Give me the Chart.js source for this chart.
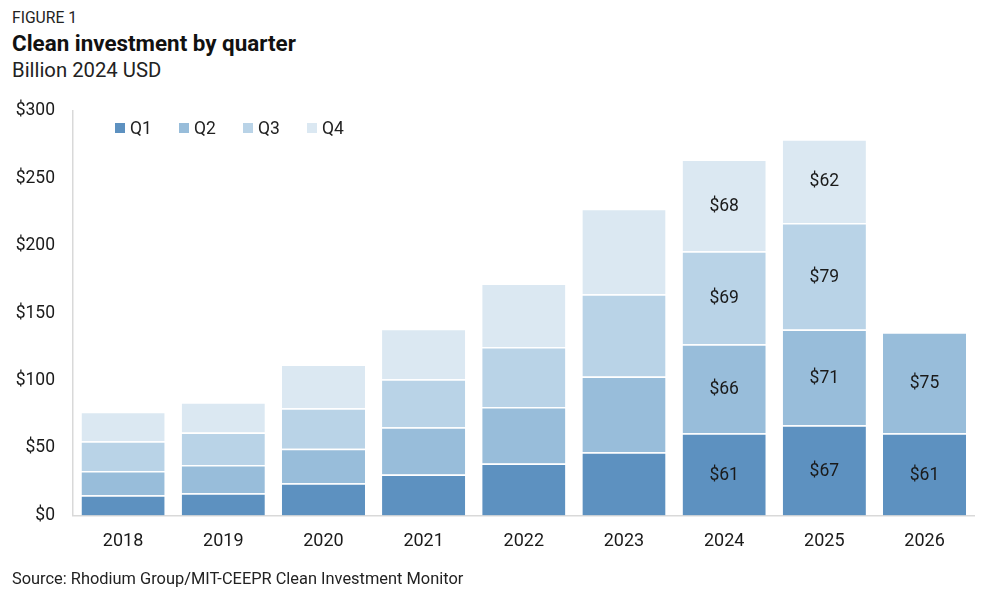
<!DOCTYPE html>
<html>
<head>
<meta charset="utf-8">
<script src="https://cdn.jsdelivr.net/npm/chart.js@4"></script>
<style>
  html, body { margin:0; padding:0; background:#fff; width:1000px; height:603px; overflow:hidden; font-family: Roboto, "Noto Sans", sans-serif; color:#1a1a1a; }
  .t { position:absolute; left:12px; white-space:nowrap; }
  #wrap { position:absolute; left:0; top:0; width:1000px; height:603px; }
  #legend { position:absolute; top:118px; left:115px; display:flex; font-size:17.5px; color:#222; }
  .li { display:flex; align-items:center; width:64px; }
  .sw { width:10px; height:10px; margin-right:5px; }
</style>
</head>
<body>
<div class="t" style="top:8px;font-size:15.7px;color:#222;">FIGURE 1</div>
<div class="t" style="top:30px;font-size:22.4px;font-weight:700;color:#111;">Clean investment by quarter</div>
<div class="t" style="top:58px;font-size:20.3px;color:#222;">Billion 2024 USD</div>
<div id="wrap"><canvas id="c" width="1000" height="603"></canvas></div>
<div id="legend"></div>
<div class="t" style="top:569px;font-size:16.4px;color:#222;">Source: Rhodium Group/MIT-CEEPR Clean Investment Monitor</div>
<script>
const categories = ["2018","2019","2020","2021","2022","2023","2024","2025","2026"];
const seriesNames = ["Q1","Q2","Q3","Q4"];
const q1 = [15, 16.5, 24, 30.5, 38.5, 47, 61, 67, 61];
const q2 = [18, 21, 25.5, 35, 42, 56, 66, 71, 75];
const q3 = [22, 24, 30, 35.5, 44.5, 61, 69, 79, null];
const q4 = [22, 22.5, 32.5, 37.5, 47, 63.5, 68, 62, null];
const labeledCategories = ["2024","2025","2026"];
const yTicks = [0, 50, 100, 150, 200, 250, 300];
const colors = ["#5d91c0", "#98bdda", "#b9d3e7", "#dbe8f2"];

const seriesValues = [q1, q2, q3, q4];

const legend = document.getElementById('legend');
seriesNames.forEach((n, i) => {
  const d = document.createElement('div'); d.className = 'li';
  d.innerHTML = '<span class="sw" style="background:' + colors[i] + '"></span>' + n;
  legend.appendChild(d);
});

const labelPlugin = {
  id: 'segLabels',
  afterDatasetsDraw(chart) {
    const ctx = chart.ctx;
    ctx.save();
    ctx.font = '17.5px Roboto, "Noto Sans", sans-serif';
    ctx.fillStyle = '#1a1a1a';
    ctx.textAlign = 'center';
    ctx.textBaseline = 'middle';
    chart.data.datasets.forEach((ds, di) => {
      const meta = chart.getDatasetMeta(di);
      meta.data.forEach((el, i) => {
        const v = ds.data[i];
        if (v == null || !labeledCategories.includes(categories[i])) return;
        ctx.fillText('$' + Math.round(v), el.x, (el.y + el.base) / 2 + 1);
      });
    });
    ctx.restore();
  }
};

new Chart(document.getElementById('c'), {
  type: 'bar',
  data: {
    labels: categories,
    datasets: seriesNames.map((n, i) => ({
      label: n,
      data: seriesValues[i],
      backgroundColor: colors[i],
      borderColor: '#ffffff',
      borderWidth: { top: 1.5, bottom: 0, left: 0, right: 0 },
      borderSkipped: 'start',
      categoryPercentage: 1,
      barPercentage: 0.83
    }))
  },
  options: {
    responsive: false,
    animation: false,
    devicePixelRatio: 1,
    layout: { padding: { top: 111, right: 25.4, bottom: 37.5, left: 0 } },
    plugins: { legend: { display: false }, tooltip: { enabled: false } },
    scales: {
      x: {
        stacked: true,
        grid: { display: false, drawTicks: false },
        border: { display: true, color: '#d9d9d9', width: 1.5 },
        ticks: { padding: 15, color: '#1a1a1a', font: { family: 'Roboto', size: 18 } },
        afterFit(s) { s.height = 50; }
      },
      y: {
        stacked: true,
        min: 0, max: 300,
        afterBuildTicks(s) { s.ticks = yTicks.map(v => ({ value: v })); },
        grid: { display: false, drawTicks: false },
        border: { display: true, color: '#d9d9d9', width: 1.5 },
        ticks: { padding: 18, color: '#1a1a1a', font: { family: 'Roboto', size: 17.5 }, callback: v => '$' + v },
        afterFit(s) { s.width = 73; }
      }
    }
  },
  plugins: [labelPlugin]
});
</script>
</body>
</html>
